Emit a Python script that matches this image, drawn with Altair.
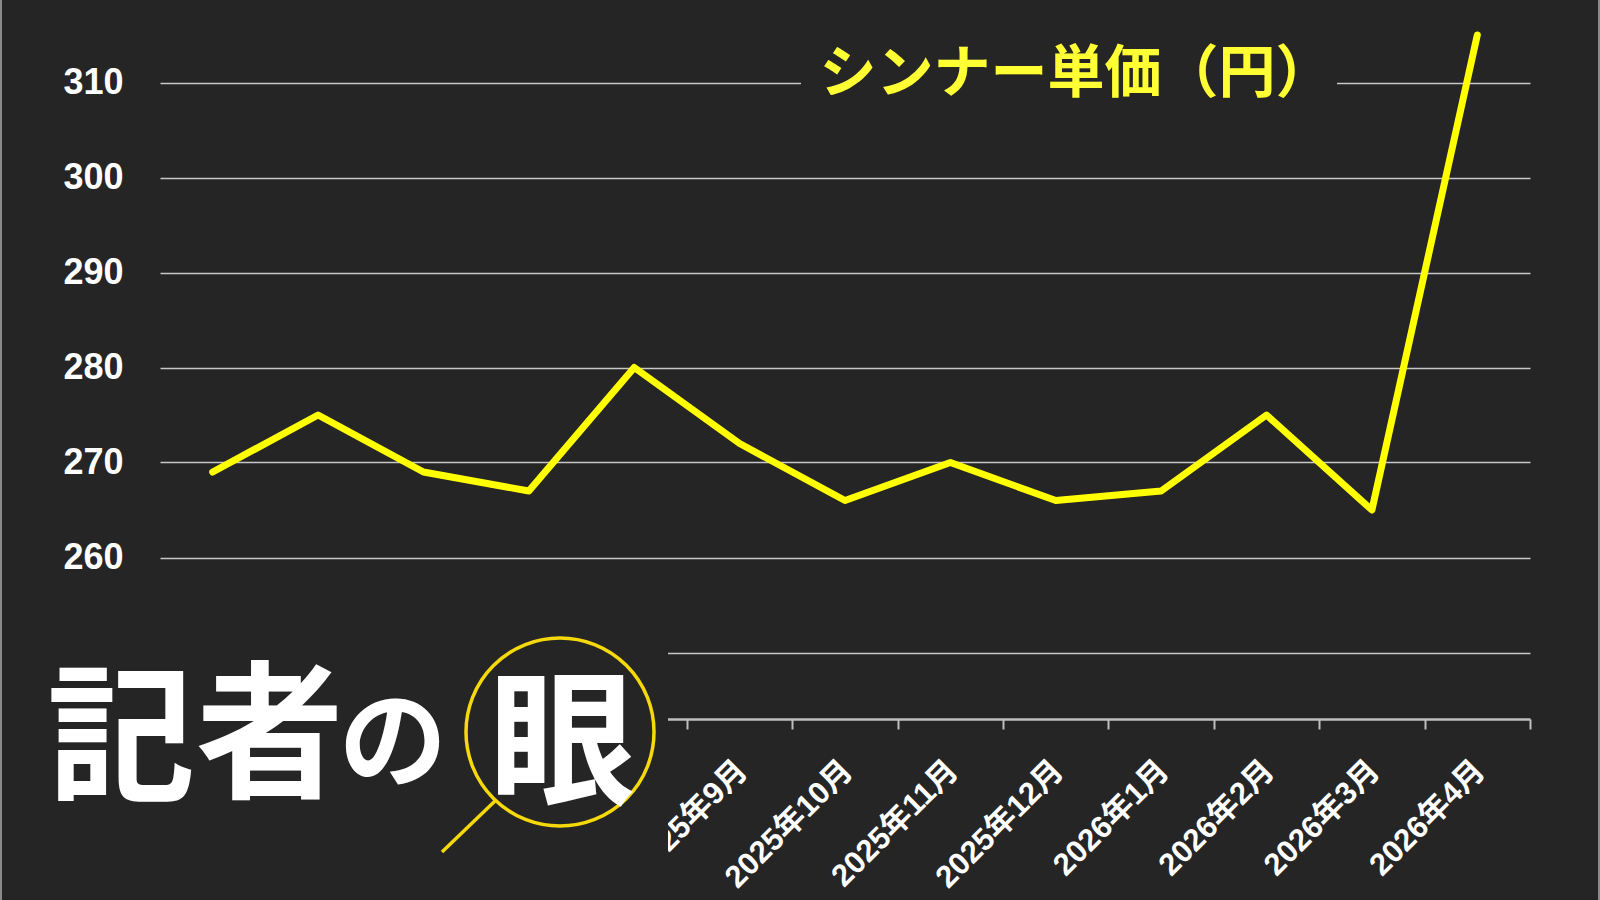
import altair as alt
import pandas as pd

months = ["2025年4月", "2025年5月", "2025年6月", "2025年7月", "2025年8月", "2025年9月",
          "2025年10月", "2025年11月", "2025年12月", "2026年1月", "2026年2月", "2026年3月", "2026年4月"]
prices = [269, 275, 269, 267, 280, 272, 266, 270, 266, 267, 275, 265, 315]
y_ticks = [250, 260, 270, 280, 290, 300, 310]
title_text = "シンナー単価（円）"
logo_chars = ["記", "者", "の", "眼"]

BG = "#252525"
df = pd.DataFrame({"month": months, "price": prices})
one = alt.Data(values=[{}])

line = alt.Chart(df).mark_line(color="#FFFF00", strokeWidth=7, strokeCap="round", strokeJoin="round").encode(
    x=alt.X("month:N", sort=months, bandPosition=0.5,
            scale=alt.Scale(type="band", paddingInner=0, paddingOuter=0),
            axis=alt.Axis(title=None, tickBand="extent", labelAngle=315, labelAlign="right",
                          labelBaseline="top", labelPadding=26, labelOffset=-8, tickSize=10,
                          tickColor="#bfbfbf", tickWidth=2, domainColor="#bfbfbf", domainWidth=2.5,
                          labelColor="white", labelFont="Liberation Sans, Noto Sans CJK JP",
                          labelFontSize=31, labelFontWeight="bold", grid=False)),
    y=alt.Y("price:Q", scale=alt.Scale(domain=[243, 317], nice=False, zero=False),
            axis=alt.Axis(title=None, values=y_ticks, domain=False, ticks=False, labelPadding=37,
                          labelExpr="datum.value == 250 ? '' : datum.label",
                          labelColor="white", labelFont="Liberation Sans", labelFontSize=36,
                          labelFontWeight="bold", gridColor="#c8c8c8", gridWidth=1.5)),
)

title_bg = alt.Chart(one).mark_rect(color=BG).encode(
    x=alt.value(641), x2=alt.value(1177), y=alt.value(40), y2=alt.value(95))
title = alt.Chart(one).mark_text(text=title_text, color="#FFFF33", font="Noto Sans CJK JP",
                                 fontSize=57, fontWeight="bold", align="center", baseline="middle").encode(
    x=alt.value(916), y=alt.value(59))

logo_bg = alt.Chart(one).mark_rect(color=BG).encode(
    x=alt.value(-158), x2=alt.value(508), y=alt.value(584), y2=alt.value(882))
handle = alt.Chart(one).mark_rule(color="#F5D90A", strokeWidth=3.5).encode(
    x=alt.value(335), x2=alt.value(282), y=alt.value(785), y2=alt.value(836))
circle = alt.Chart(one).mark_point(shape="circle", size=188 * 188, filled=False, color="#F5D90A",
                                   strokeWidth=3.5, opacity=1).encode(
    x=alt.value(400), y=alt.value(716))

pos = [(-39, 729, 148), (110, 726, 148), (233, 731, 108), (402, 733, 146)]
texts = []
for ch, (px, py, fs) in zip(logo_chars, pos):
    texts.append(alt.Chart(one).mark_text(text=ch, color="white", font="Noto Sans CJK JP",
                                          fontSize=fs, fontWeight="bold", align="center",
                                          baseline="middle").encode(x=alt.value(px), y=alt.value(py)))

border = alt.Chart(one).mark_rule(color="#8a8a8a", strokeWidth=2).encode(
    x=alt.value(-159), y=alt.value(-16), y2=alt.value(884))
border2 = alt.Chart(one).mark_rule(color="#8a8a8a", strokeWidth=2).encode(
    x=alt.value(1439), y=alt.value(-16), y2=alt.value(884))

chart = alt.layer(line, title_bg, title, logo_bg, handle, circle, *texts, border, border2).properties(
    width=1370, height=703,
    padding={"left": 160, "top": 16, "right": 70, "bottom": 181},
    autosize=alt.AutoSizeParams(type="none"),
    background=BG,
).configure_view(stroke=None)

chart.save("out.html", embed_options={"renderer": "svg", "actions": False})
